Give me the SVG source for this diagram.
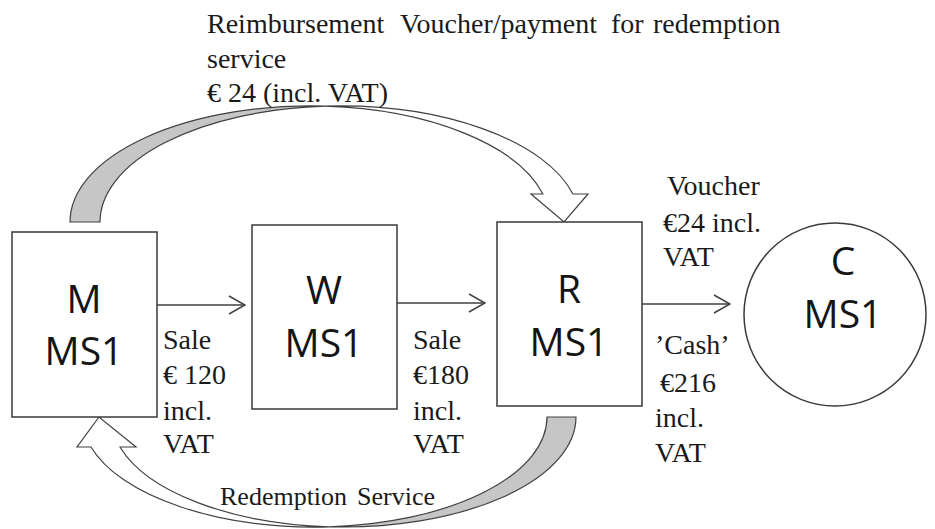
<svg xmlns="http://www.w3.org/2000/svg" width="935" height="529" viewBox="0 0 935 529">
<style>
.box{fill:#fff;stroke:#3a3a3a;stroke-width:1.5}
.node{font-family:"Open Sans","Liberation Sans",sans-serif;font-size:39px;fill:#151515;text-anchor:middle}
.lbl{font-family:"Liberation Serif","Times New Roman",serif;font-size:28px;fill:#1a1a1a}
.lbl2{font-family:"Liberation Serif","Times New Roman",serif;font-size:26px;fill:#1a1a1a}
.conn{fill:none;stroke:#404040;stroke-width:1.5}
.back{fill:#c6c6c6;stroke:#404040;stroke-width:1.2}
.front{fill:#fff;stroke:#404040;stroke-width:1.2}
</style>
<defs>
<marker id="open" viewBox="0 0 18 20" refX="17" refY="10" markerWidth="18" markerHeight="20" markerUnits="userSpaceOnUse" orient="auto">
<path d="M1,1 L17,10 L1,19" fill="none" stroke="#404040" stroke-width="1.5"/>
</marker>
</defs>
<rect width="935" height="529" fill="#fff"/>
<g id="connectors">
<line class="conn" x1="157" y1="305" x2="245" y2="305" marker-end="url(#open)"/>
<line class="conn" x1="397" y1="303" x2="485" y2="303" marker-end="url(#open)"/>
<line class="conn" x1="642" y1="304" x2="730" y2="304" marker-end="url(#open)"/>
<g id="top-arrow">
<path class="back" d="M70,222 A240 116 0 0 1 325,106.2 A240 116 0 0 0 100,222 Z"/>
<path class="front" d="M325,106.2 A240 116 0 0 1 572.9,194 L588,194 L564,222 L531,194 L542.9,194 A240 116 0 0 0 325,106.2 Z"/>
</g>
<g id="bottom-arrow">
<path class="back" d="M576,417 A232.4 110 0 0 1 329.1,526.8 A232.4 110 0 0 0 547,417 Z"/>
<path class="front" d="M329.1,526.8 A232.4 110 0 0 1 91,447 L77,447 L99,417 L136,447 L120,447 A232.4 110 0 0 0 329.1,526.8 Z"/>
</g>
</g>
<g id="node-M">
<rect class="box" x="12" y="232" width="145" height="185"/>
<text class="node" x="84" y="313">M</text>
<text class="node" x="84" y="365">MS1</text>
</g>
<g id="node-W">
<rect class="box" x="252" y="225" width="145" height="184"/>
<text class="node" x="324" y="304">W</text>
<text class="node" x="324" y="357">MS1</text>
</g>
<g id="node-R">
<rect class="box" x="497" y="222" width="145" height="184"/>
<text class="node" x="569" y="303">R</text>
<text class="node" x="569" y="356">MS1</text>
</g>
<g id="node-C">
<ellipse class="box" cx="835" cy="314.5" rx="91" ry="91.5"/>
<text class="node" x="843" y="275">C</text>
<text class="node" x="843" y="328">MS1</text>
</g>
<g id="labels">
<text class="lbl" y="33"><tspan x="207">Reimbursement</tspan><tspan x="400">Voucher/payment</tspan><tspan x="611">for</tspan><tspan x="653">redemption</tspan></text>
<text class="lbl" x="207" y="68">service</text>
<text class="lbl" x="207" y="102">€ 24 (incl. VAT)</text>
<text class="lbl" x="163" y="349">Sale</text>
<text class="lbl" x="163" y="384">€ 120</text>
<text class="lbl" x="163" y="420">incl.</text>
<text class="lbl" x="163" y="453">VAT</text>
<text class="lbl" x="413" y="349">Sale</text>
<text class="lbl" x="413" y="384">€180</text>
<text class="lbl" x="413" y="420">incl.</text>
<text class="lbl" x="413" y="453">VAT</text>
<text class="lbl" x="667" y="195">Voucher</text>
<text class="lbl" x="663" y="232">€24 incl.</text>
<text class="lbl" x="663" y="266">VAT</text>
<text class="lbl" x="655" y="354">’Cash’</text>
<text class="lbl" x="660" y="392">€216</text>
<text class="lbl" x="655" y="427">incl.</text>
<text class="lbl" x="655" y="462">VAT</text>
<text class="lbl2" y="505"><tspan x="220">Redemption</tspan><tspan x="357">Service</tspan></text>
</g>
</svg>
